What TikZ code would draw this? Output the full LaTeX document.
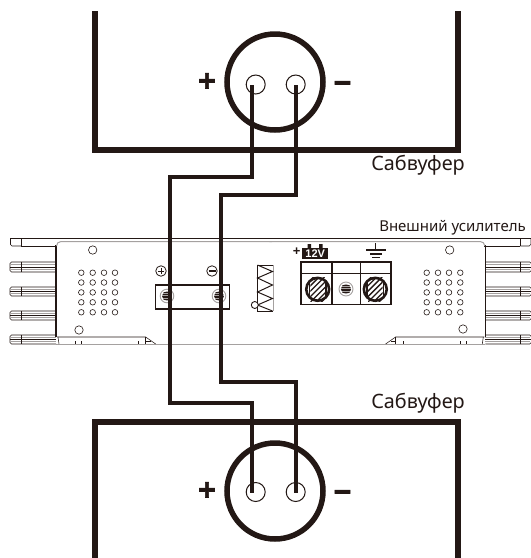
\documentclass[tikz,border=0pt]{standalone}
\usepackage{fontspec}
\setmainfont{Noto Sans}
\newfontfamily\boldsans{Liberation Sans}[BoldFont={Liberation Sans Bold}]
\newfontfamily\heavysans{Liberation Sans Bold}[FakeBold=2.2]
\definecolor{ink}{HTML}{231815}
\definecolor{soft}{HTML}{A5A1A0}
\newcommand{\hscrew}[3]{%
  \fill[white] (#1,#2) circle (#3);
  \begin{scope}
    \clip (#1-0.56*#3,#2-0.9*#3) rectangle (#1+0.56*#3,#2+0.9*#3);
    \foreach \k in {-5,...,5}{
      \draw[ink,line width=0.1*#3*1pt] (#1-#3,#2+\k*0.42*#3+#3) -- (#1+#3,#2+\k*0.42*#3-#3);
    }
  \end{scope}
  \draw[ink,line width=0.2*#3*1pt] (#1,#2) circle (0.88*#3);
  \fill[ink] (#1-0.7*#3,#2-0.6*#3) rectangle (#1-0.56*#3,#2+0.6*#3);
  \fill[ink] (#1+0.56*#3,#2-0.6*#3) rectangle (#1+0.7*#3,#2+0.6*#3);
}
\newcommand{\sscrew}[3]{%
  \draw[soft,fill=white,line width=0.9pt] (#1,#2) circle (#3);
  \fill[soft] (#1,#2) circle (0.72*#3);
  \begin{scope}
    \clip (#1,#2) circle (0.72*#3);
    \foreach \k in {-3,...,3}{
      \draw[ink,line width=1pt] (#1-#3,#2+\k*1.7) -- (#1+#3,#2+\k*1.7);
    }
  \end{scope}
}
\newcommand{\fin}[2]{%
  \draw[soft,line width=0.7pt] (11,#1+2.4) -- (56,#1+2.4);
  \draw[soft,line width=0.7pt] (11,#2-2.4) -- (56,#2-2.4);
  \draw[thinink,rounded corners=1.5pt] (56,#1) -- (10,#1) -- (10,#2) -- (56,#2);
  \draw[thinink] (10,{(#1+#2)/2}) -- (56,{(#1+#2)/2});
  \draw[thinink] (21,#1) -- (21,#2);
}
\newcommand{\ampside}{%
  \foreach \y/\z in {262/272,287/296,311/320,335/344}{\fin{\y}{\z}}
  \draw[thinink,rounded corners=1.5pt] (21,246) -- (10.5,246) -- (10.5,238);
  \draw[thinink] (21,238) -- (21,246);
  \draw[ink,line width=0.9pt] (21,246) -- (57,246);
  \draw[ink,line width=1.5pt] (56,245) -- (56,337);
  \draw[soft,line width=1pt] (56.5,246) arc[start angle=180,end angle=270,radius=4.5] -- (272,241.5);
  \draw[thinink] (57,337) -- (145.7,337) -- (155.7,344);
  \draw[thinink] (146,341) -- (150.5,341);
  \draw[thinink] (145.7,337) -- (145.7,344);
  \foreach \x in {75.5,81.5,138.5}{\draw[thinink] (\x,341) -- (\x,344);}
  \draw[thinink] (58,337) -- (59,344);
}
\tikzset{
  thinink/.style={ink,line width=0.55pt},
  cabinet/.style={ink,line width=5.5pt,line cap=butt,miter limit=10},
  wire/.style={ink,line width=3.7pt,line join=miter},
  cone/.style={circle,draw=ink,line width=5.5pt,minimum size=96pt,inner sep=0pt},
  post/.style={circle,draw=ink,line width=1pt,minimum size=19pt,inner sep=0pt},
  vent/.style={circle,draw=ink,line width=0.6pt,minimum size=5.6pt,inner sep=0pt},
  hole/.style={circle,draw=ink,line width=0.6pt,minimum size=8.4pt,inner sep=0pt},
  sign/.style={circle,draw=ink,line width=0.8pt,minimum size=10.5pt,inner sep=0pt},
  label/.style={text=ink,font=\fontsize{19.8}{22}\selectfont,inner sep=0pt},
  polarity/.style={text=ink,font=\heavysans\fontsize{30}{30}\selectfont,inner sep=0pt},
}
\begin{document}
\begin{tikzpicture}[x=1pt,y=-1pt]
\useasboundingbox (0,0) rectangle (531,558);
% amplifier
\draw[ink,line width=0.8pt] (10,238) -- (531,238);
\draw[soft,line width=1pt] (56,344) -- (485,344);
\ampside
\begin{scope}[shift={(541.3,0)},xscale=-1]\ampside\end{scope}
\node[hole] (hTL) at (92.7,250) {};
\node[hole] (hBL) at (79,330) {};
\node[hole] (hTR) at (449.7,250) {};
\node[hole] (hBR) at (463,329) {};
\foreach \y [count=\j] in {272.7,282.5,292.4,302.3,312.3}{
  \foreach \x [count=\i] in {81.3,92.7,104,115}{\node[vent] (vl\i\j) at (\x,\y) {};}
  \foreach \x [count=\i] in {426.7,438,449,460.3}{\node[vent] (vr\i\j) at (\x,\y) {};}
}
% speaker terminal block
\node[draw=ink,line width=1.2pt,minimum width=74pt,minimum height=24pt,inner sep=0pt] (block) at (192.2,297) {};
\sscrew{167}{296}{6.8}
\sscrew{219}{296}{6.8}
\node[sign] (sp) at (161,271) {};
\node[sign] (sm) at (212,271) {};
\draw[ink,line width=0.8pt] (158,271) -- (164,271) (161,268) -- (161,274);
\draw[ink,line width=1.5pt] (208.5,271) -- (215.5,271);
% coil
\draw[ink,line width=0.6pt] (273,265) -- (257.5,265) -- (257.5,311) -- (273,311);
\draw[soft,line width=0.6pt] (273,265) -- (273,311);
\draw[ink,line width=1pt] (257.5,265) -- (272.5,271.5) -- (257.5,278) -- (272.5,285) -- (257.5,292) -- (272.5,298.5) -- (257.5,305) -- (272.5,311);
\node[circle,draw=ink,line width=0.9pt,fill=white,minimum size=7pt,inner sep=0pt] (loop) at (254.8,305) {};
% power terminal
\draw[ink,line width=1.1pt] (301,262) rectangle (391,304.3);
\draw[ink,line width=1.1pt] (301,273.3) -- (391,273.3) (332,262) -- (332,304.3) (360.3,262) -- (360.3,304.3);
\hscrew{317.7}{289.3}{13}
\hscrew{375.3}{289.3}{13}
\sscrew{346}{289}{7}
\fill[ink] (302,248.3) rectangle (328.3,259.3);
\fill[ink] (307.5,244) rectangle (311,248.3) (319,244) rectangle (322.5,248.3);
\node[text=white,font=\boldsans\bfseries\fontsize{11}{11}\selectfont,inner sep=0pt] (volts) at (315.2,254) {12V};
\node[text=ink,font=\boldsans\bfseries\fontsize{13}{13}\selectfont,inner sep=0pt] (bplus) at (296.7,251.7) {+};
\draw[ink,line width=1.2pt] (375.7,243) -- (375.7,250) (366,250) -- (385.5,250) (370,254) -- (381.5,254) (372,257.7) -- (379.5,257.7);
% cabinets
\draw[cabinet] (95,11) -- (95,150) -- (458,150) -- (458,11);
\draw[cabinet] (95,558) -- (95,422) -- (458,422) -- (458,558);
\node[cone] (coneT) at (275,82) {};
\node[cone] (coneB) at (275,491) {};
\node[post] (tpT) at (255.7,84.5) {};
\node[post] (tmT) at (295.7,84.5) {};
\node[post] (tpB) at (255.7,492) {};
\node[post] (tmB) at (295.7,492) {};
\node[polarity] (plusT) at (207,82) {+};
\node[polarity] (minusT) at (342.5,87) {−};
\node[polarity] (plusB) at (207,491) {+};
\node[polarity] (minusB) at (342.5,496) {−};
% wires
\coordinate (a0) at (252.3,85);
\coordinate (a1) at (252.3,177);
\coordinate (a2) at (170,177);
\coordinate (a3) at (170,403);
\coordinate (a4) at (252.3,403);
\coordinate (a5) at (252.3,493);
\coordinate (b0) at (296,85);
\coordinate (b1) at (296,195);
\coordinate (b2) at (221,195);
\coordinate (b3) at (221,382);
\coordinate (b4) at (296,382);
\coordinate (b5) at (296,493);
\draw[wire] (a0) -- (a1) -- (a2) -- (a3) -- (a4) -- (a5);
\draw[wire] (b0) -- (b1) -- (b2) -- (b3) -- (b4) -- (b5);
% labels
\node[label] (subT) at (418,165) {Сабвуфер};
\node[label] (subB) at (418,403) {Сабвуфер};
\node[label,font=\fontsize{15}{16}\selectfont] (ampname) at (452.5,228) {Внешний усилитель};
\end{tikzpicture}
\end{document}
